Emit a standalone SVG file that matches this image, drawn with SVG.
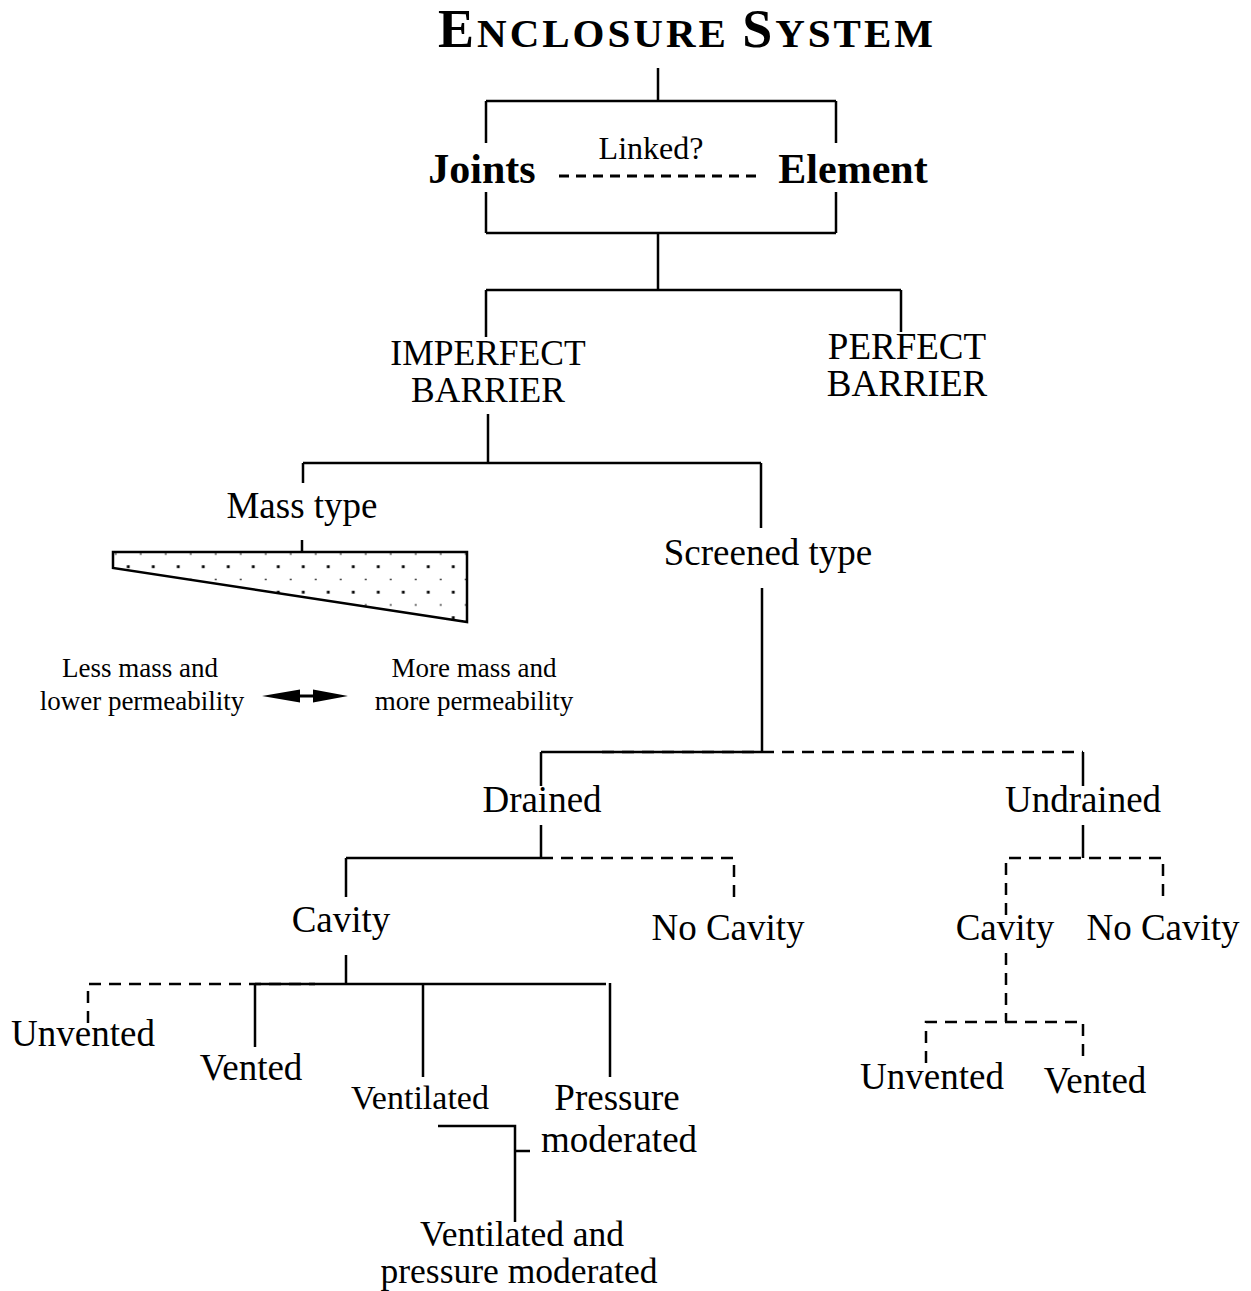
<svg xmlns="http://www.w3.org/2000/svg" width="1251" height="1291" viewBox="0 0 1251 1291">
<style>
text{font-family:"Liberation Serif","Times New Roman",serif;fill:#000;text-anchor:middle}
.t{font-size:37px}
.t2{font-size:35.5px}
.s{font-size:27px}
.b{font-weight:bold;font-size:42px}
.ln{stroke:#000;stroke-width:2.5;fill:none}
.d{stroke:#000;stroke-width:2.5;fill:none;stroke-dasharray:12 8}
</style>
<defs>
<pattern id="dots" patternUnits="userSpaceOnUse" x="134.55" y="547.6" width="25" height="25.5">
<rect x="5.5" y="5.6" width="1.5" height="1.5" fill="#000"/>
<rect x="17.3" y="17.7" width="2.8" height="2.8" fill="#000"/>
</pattern>
</defs>
<rect width="1251" height="1291" fill="#fff"/>
<g id="connectors">
<path class="ln" d="M658,68V101M486,101H836M486,101V143M836,101V143M486,192V233M836,192V233M486,233H836M658,233V290M486,290H901M486,290V337M901,290V332M488,414V463M303,463H761M303,463V483M761,463V528M302,540V552M762,588V752M541,752H762M541,752V786M541,825V858M346,858H541M346,858V897M1083,752V786M1083,825V858M346,955V984M255,984H606M255,984V1047M423,984V1077M610,983V1077M438,1126H515V1222M515,1151H530"/>
<path d="M559,176H760" stroke="#000" stroke-width="2.8" stroke-dasharray="10 7" fill="none"/>
<path class="d" d="M602,752H1083M541,858H734V898M88,1023V984H315M1006,915V858H1163V898M1006,953V1022M926,1063V1022H1083V1063"/>
<g id="arrow">
<path d="M262,696L300,689.5V702.5Z M348,696L313,689.5V702.5Z" fill="#000"/>
<path d="M298,696H315" stroke="#000" stroke-width="3"/>
</g>
</g>
<g id="title"><text x="687" y="47" font-weight="bold" font-size="41" letter-spacing="3"><tspan font-size="54">E</tspan>NCLOSURE <tspan font-size="54">S</tspan>YSTEM</text></g>
<g id="joints"><text class="b" x="482" y="183">Joints</text></g>
<g id="element"><text class="b" x="853" y="183">Element</text></g>
<g id="linked"><text x="651" y="159" font-size="32">Linked?</text></g>
<g id="imperfect"><text class="t2" x="488" y="365">IMPERFECT</text><text class="t2" x="488" y="402">BARRIER</text></g>
<g id="perfect"><text class="t" x="907" y="359">PERFECT</text><text class="t" x="907" y="396">BARRIER</text></g>
<g id="mass"><text class="t" x="302" y="518">Mass type</text>
<polygon points="113,552 467,552 467,622 113,568" fill="url(#dots)" stroke="#000" stroke-width="2.5"/></g>
<g id="less"><text class="s" x="140" y="677">Less mass and</text><text class="s" x="142" y="710">lower permeability</text></g>
<g id="more"><text class="s" x="474" y="677">More mass and</text><text class="s" x="474" y="710">more permeability</text></g>
<g id="screened"><text class="t" x="768" y="565">Screened type</text></g>
<g id="drained"><text class="t" x="542" y="812">Drained</text></g>
<g id="undrained"><text class="t" x="1083" y="812">Undrained</text></g>
<g id="cavity1"><text class="t" x="341" y="932" font-size="36">Cavity</text></g>
<g id="nocavity1"><text class="t" x="728" y="940">No Cavity</text></g>
<g id="cavity2"><text class="t" x="1005" y="940" font-size="36">Cavity</text></g>
<g id="nocavity2"><text class="t" x="1163" y="940">No Cavity</text></g>
<g id="unvented1"><text class="t" x="83" y="1046">Unvented</text></g>
<g id="vented1"><text class="t" x="251" y="1080">Vented</text></g>
<g id="ventilated"><text x="420" y="1109" font-size="34">Ventilated</text></g>
<g id="pressure"><text class="t" x="617" y="1110">Pressure</text><text class="t" x="619" y="1152">moderated</text></g>
<g id="ventpress"><text class="t2" x="522" y="1246">Ventilated and</text><text class="t2" x="519" y="1283">pressure moderated</text></g>
<g id="unvented2"><text class="t" x="932" y="1089">Unvented</text></g>
<g id="vented2"><text class="t" x="1095" y="1093">Vented</text></g>
</svg>
